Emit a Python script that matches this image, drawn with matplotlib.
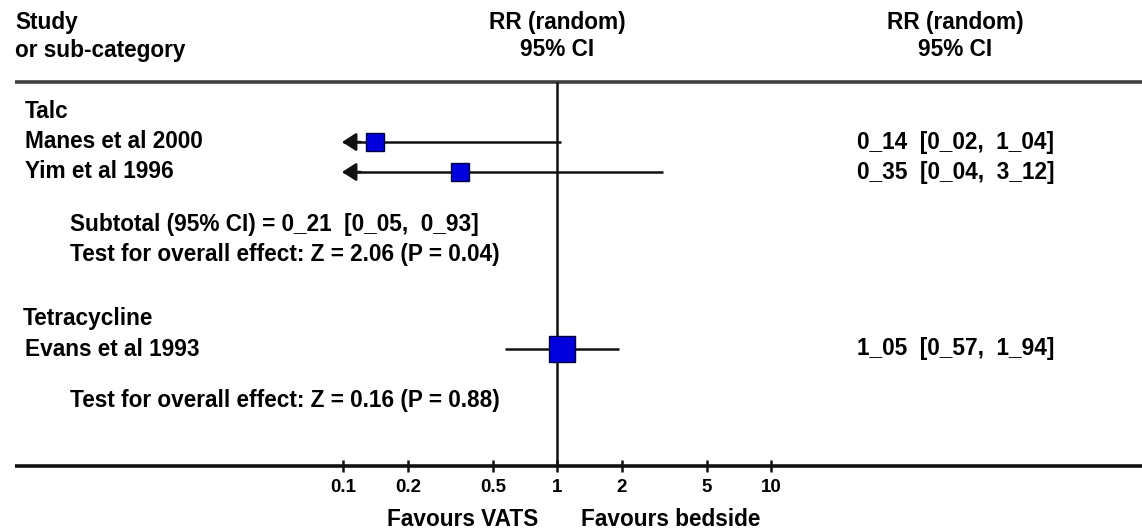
import matplotlib
matplotlib.use("Agg")
import matplotlib.pyplot as plt
import numpy as np

# ---------------- data ----------------
groups = ["Talc", "Tetracycline"]
studies = ["Manes et al 2000", "Yim et al 1996", "Evans et al 1993"]
study_group = [0, 0, 1]
rr = [0.14, 0.35, 1.05]
ci_low = [0.02, 0.04, 0.57]
ci_high = [1.04, 3.12, 1.94]
weight_size = [18, 18, 27]          # marker size in px (relative weight)
subtotal = {"rr": 0.21, "low": 0.05, "high": 0.93}
overall_tests = ["Test for overall effect: Z = 2.06 (P = 0.04)",
                 "Test for overall effect: Z = 0.16 (P = 0.88)"]
tick_values = [0.1, 0.2, 0.5, 1, 2, 5, 10]
tick_labels = ["0.1", "0.2", "0.5", "1", "2", "5", "10"]
axis_min, axis_max = 0.1, 10
left_label, right_label = "Favours VATS", "Favours bedside"

# ---------------- layout (figure pixels) ----------------
W, H = 1142, 532
center_px, px_per_decade = 557.5, 214.0
row_y = {"talc": 112, "s0": 142, "s1": 172, "sub": 225, "test0": 255,
         "tetra": 318, "s2": 349, "test1": 401}
study_rows = ["s0", "s1", "s2"]

def fmt(v):
    return f"{v:.2f}".replace(".", "_")

plt.rcParams["font.family"] = ["Liberation Sans", "DejaVu Sans"]
plt.rcParams["font.weight"] = "bold"

fig = plt.figure(figsize=(W / 100, H / 100), dpi=100)
ax = fig.add_axes([0, 0, 1, 1])
ax.set_xscale("log")
ax.set_xlim(10 ** (-center_px / px_per_decade), 10 ** ((W - center_px) / px_per_decade))
ax.set_ylim(H, 0)
ax.axis("off")

fs = 16.3
trans_lx = ax.get_yaxis_transform()  # x in axes fraction, y in data
def xf(px):
    return px / W

# headers
ax.text(xf(15), 22, "Study", transform=trans_lx, fontsize=fs, va="center", ha="left")
ax.text(xf(15), 50, "or sub-category", transform=trans_lx, fontsize=fs, va="center", ha="left")
ax.text(1, 22, "RR (random)", fontsize=fs, va="center", ha="center")
ax.text(1, 50, "95% CI", fontsize=fs, va="center", ha="center")
ax.text(xf(955), 22, "RR (random)", transform=trans_lx, fontsize=fs, va="center", ha="center")
ax.text(xf(955), 50, "95% CI", transform=trans_lx, fontsize=fs, va="center", ha="center")

# horizontal rules
ax.plot([xf(15), 1], [82, 82], transform=trans_lx, color="#404040", lw=2.6, solid_capstyle="butt")
ax.plot([xf(15), 1], [466, 466], transform=trans_lx, color="#111111", lw=2.6, solid_capstyle="butt")

# line of no effect
ax.vlines(1, 82, 466, color="#111111", lw=1.8)

# group labels
ax.text(xf(25), row_y["talc"], groups[0], transform=trans_lx, fontsize=fs, va="center")
ax.text(xf(23), row_y["tetra"], groups[1], transform=trans_lx, fontsize=fs, va="center")

# studies
for i, name in enumerate(studies):
    y = row_y[study_rows[i]]
    ax.text(xf(25), y, name, transform=trans_lx, fontsize=fs, va="center")
    lo = max(ci_low[i], axis_min)
    hi = min(ci_high[i], axis_max)
    ax.hlines(y, lo, hi, color="#111111", lw=1.8, zorder=2)
    if ci_low[i] < axis_min:
        ax.annotate("", xy=(axis_min * 0.985, y), xytext=(axis_min * 1.2, y),
                    arrowprops=dict(arrowstyle="-|>,head_length=0.85,head_width=0.55",
                                    color="#111111", lw=1.8, shrinkA=0, shrinkB=0))
    ax.plot([rr[i]], [y], marker="s", markersize=weight_size[i] * 0.72,
            markerfacecolor="#0000dd", markeredgecolor="#000040", markeredgewidth=1.0, zorder=3)
    ax.text(xf(857), y, f"{fmt(rr[i])}  [{fmt(ci_low[i])},  {fmt(ci_high[i])}]",
            transform=trans_lx, fontsize=fs, va="center")

# subtotal and tests
ax.text(xf(70), row_y["sub"],
        f"Subtotal (95% CI) = {fmt(subtotal['rr'])}  [{fmt(subtotal['low'])},  {fmt(subtotal['high'])}]",
        transform=trans_lx, fontsize=fs, va="center")
ax.text(xf(70), row_y["test0"], overall_tests[0], transform=trans_lx, fontsize=fs, va="center")
ax.text(xf(70), row_y["test1"], overall_tests[1], transform=trans_lx, fontsize=fs, va="center")

# axis ticks and labels
ax.plot(tick_values, [466] * len(tick_values), linestyle="none", marker="|",
        markersize=9, markeredgewidth=1.8, color="#111111")
for v, lab in zip(tick_values, tick_labels):
    ax.text(v, 488, lab, fontsize=13.5, ha="center", va="center")

ax.text(xf(463), 520, left_label, transform=trans_lx, fontsize=fs, ha="center", va="center")
ax.text(xf(671), 520, right_label, transform=trans_lx, fontsize=fs, ha="center", va="center")

fig.savefig("out.png", dpi=100, facecolor="white")
